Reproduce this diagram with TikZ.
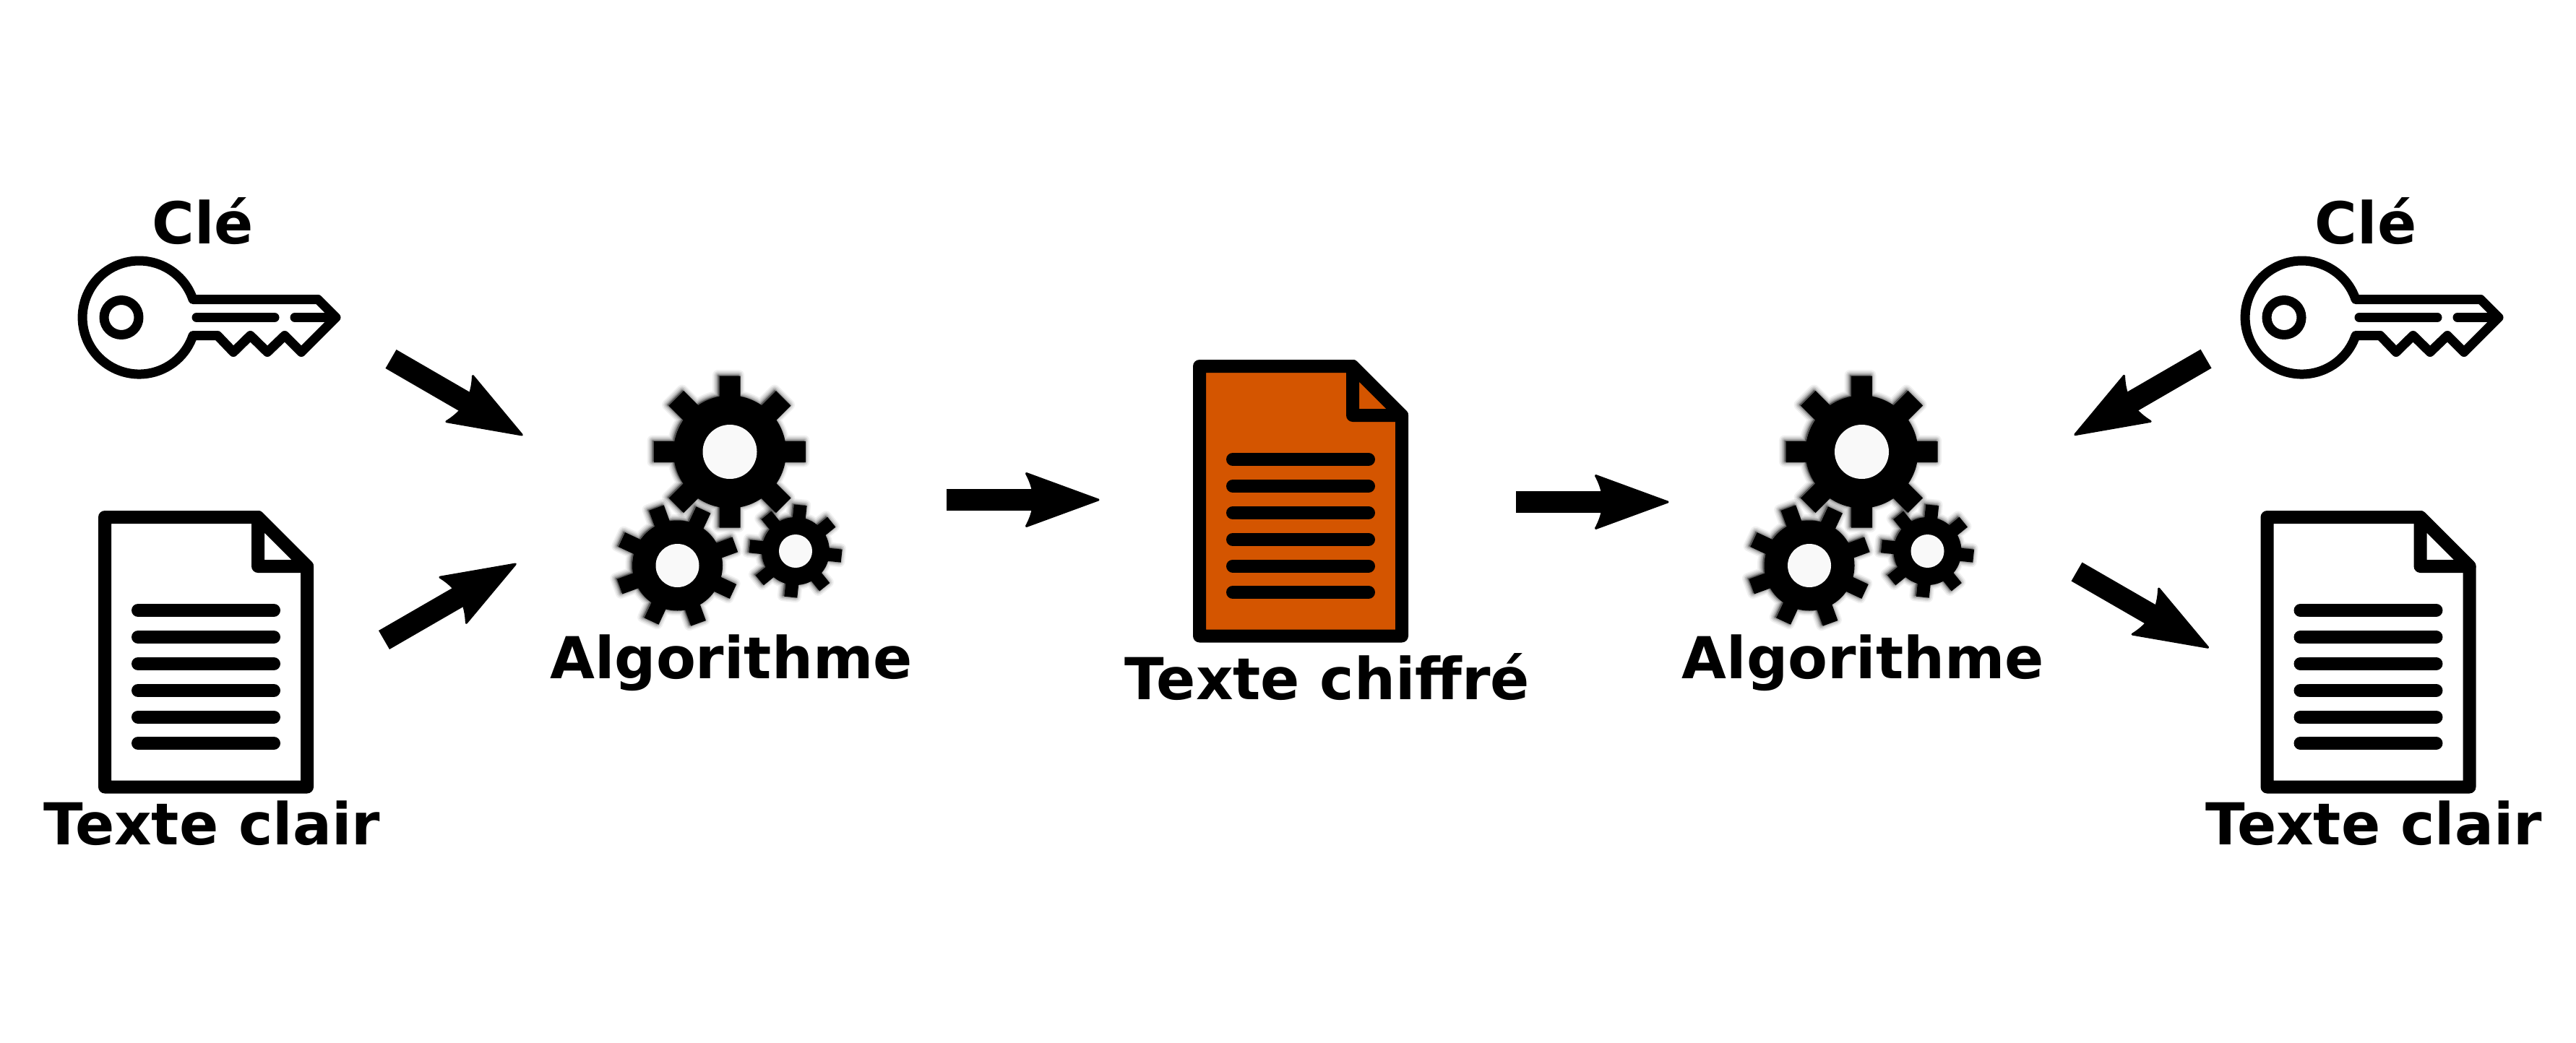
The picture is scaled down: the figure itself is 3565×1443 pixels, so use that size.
\documentclass[tikz,border=0pt]{standalone}
\usepackage{fontspec}
\setmainfont{DejaVu Sans}
\usetikzlibrary{arrows.meta}
\definecolor{cipher}{HTML}{D45500}
\definecolor{gearhole}{HTML}{F9F9F9}
\pgfdeclarearrow{
  name=inkhead,
  setup code={
    \pgfarrowssettipend{0pt}
    \pgfarrowssetlineend{-91pt}
    \pgfarrowssetvisualbackend{-92pt}
    \pgfarrowssetbackend{-104pt}
  },
  drawing code={
    \pgfsetlinewidth{3pt}
    \pgfsetroundjoin
    \pgfpathmoveto{\pgfqpoint{-2pt}{0pt}}
    \pgfpathlineto{\pgfqpoint{-101.5pt}{36.5pt}}
    \pgfpathcurveto{\pgfqpoint{-97pt}{28pt}}{\pgfqpoint{-94pt}{20pt}}{\pgfqpoint{-92.5pt}{12pt}}
    \pgfpathlineto{\pgfqpoint{-92.5pt}{-12pt}}
    \pgfpathcurveto{\pgfqpoint{-94pt}{-20pt}}{\pgfqpoint{-97pt}{-28pt}}{\pgfqpoint{-101.5pt}{-36.5pt}}
    \pgfpathclose
    \pgfusepathqfillstroke
  }
}
\tikzset{
  label text/.style={inner sep=0pt,anchor=base,font=\fontsize{80}{92}\selectfont\bfseries},
  flow arrow/.style={line width=30pt,line cap=butt,-{inkhead}},
  doc stroke/.style={line width=18pt,line join=round,line cap=round},
  key stroke/.style={line width=13pt,line join=round,line cap=round},
}
% body outer halfwidth rotation
\newcommand{\gearoutline}[4]{%
  (0,0) circle[radius=#1pt]
  \foreach \ga in {0,45,...,315}{
    ([rotate=\ga+#4]#1-8,-#3) -- ([rotate=\ga+#4]#2,-#3) -- ([rotate=\ga+#4]#2,#3) -- ([rotate=\ga+#4]#1-8,#3) -- cycle
  }
}
% cx cy body outer halfwidth rotation hole
\newcommand{\mygear}[7]{%
  \begin{scope}[shift={(#1,#2)},x=1pt,y=1pt]
    \foreach \gw/\go in {15/.06,11/.09,7/.13,3.5/.2}{
      \path[fill=black,draw=black,line width=\gw pt,line join=round,opacity=\go,shift={(-2,1)}]
        \gearoutline{#3}{#4}{#5}{#6};
    }
    \path[fill=black] \gearoutline{#3}{#4}{#5}{#6};
    \path[fill=gearhole] (0,0) circle[radius=#7pt];
  \end{scope}%
}
\newcommand{\mydoc}[3]{% dx dy fill
  \begin{scope}[shift={(#1,#2)}]
    \draw[doc stroke,fill=#3] (145,716) -- (357,716) -- (425,784) -- (425,1089.5) -- (145,1089.5) -- cycle;
    \draw[doc stroke,fill=#3] (357,716) -- (357,784) -- (425,784) -- cycle;
    \foreach \ly in {845,882,919,956,992.5,1029}{
      \draw[doc stroke] (191,\ly) -- (379,\ly);
    }
  \end{scope}%
}
\newcommand{\mykey}[1]{%
  \begin{scope}[shift={(#1,0)}]
    \draw[key stroke] (267,414.5) arc[start angle=18.6,end angle=341.4,radius=78.5pt]
      -- (301,464.5) -- (323,487.5) -- (346.5,464.5) -- (370,487.5) -- (394,464.5) -- (417,487.5)
      -- (465,439.5) -- (440,414.5) -- cycle;
    \draw[key stroke] (168,439.5) circle[radius=24pt];
    \draw[key stroke] (272,439.5) -- (380,439.5);
    \draw[key stroke] (408,439.5) -- (462,439.5);
  \end{scope}%
}
\begin{document}
\begin{tikzpicture}[x=1pt,y=-1pt]
  \useasboundingbox[fill=white] (0,0) rectangle (3565,1443);

  % icons
  \mykey{0}
  \mykey{2993}
  \mydoc{0}{0}{white}
  \mydoc{2992.5}{0}{white}
  \mydoc{1515}{-209}{cipher}

  \mygear{1010}{625.5}{78}{105}{14.5}{0}{37.5}
  \mygear{937.5}{783}{62.5}{85}{11}{20}{30}
  \mygear{1101}{763}{47}{64}{9}{-6}{23}
  \mygear{2576.5}{625.5}{78}{105}{14.5}{0}{37.5}
  \mygear{2504}{783}{62.5}{85}{11}{20}{30}
  \mygear{2667.5}{763}{47}{64}{9}{-6}{23}

  % labels
  \node[label text] (cle1) at (281,337) {Clé};
  \node[label text] (cle2) at (3274,337) {Clé};
  \node[label text] (clair1) at (293,1169.5) {Texte clair};
  \node[label text] (clair2) at (3285,1169.5) {Texte clair};
  \node[label text] (algo1) at (1012,939) {Algorithme};
  \node[label text] (algo2) at (2578.5,939) {Algorithme};
  \node[label text] (chiffre) at (1837,968) {Texte chiffré};

  % connector ends
  \coordinate (a1s) at (541,497);    \coordinate (a1e) at (724,603);
  \coordinate (a2s) at (531.5,886);  \coordinate (a2e) at (715,780);
  \coordinate (a3s) at (1310,692);   \coordinate (a3e) at (1522,692);
  \coordinate (a4s) at (2098,695);   \coordinate (a4e) at (2310,695);
  \coordinate (a5s) at (3053,496.7); \coordinate (a5e) at (2870,602.7);
  \coordinate (a6s) at (2874,791.5); \coordinate (a6e) at (3057.3,897.3);

  \draw[flow arrow] (a1s) -- (a1e);
  \draw[flow arrow] (a2s) -- (a2e);
  \draw[flow arrow] (a3s) -- (a3e);
  \draw[flow arrow] (a4s) -- (a4e);
  \draw[flow arrow] (a5s) -- (a5e);
  \draw[flow arrow] (a6s) -- (a6e);
\end{tikzpicture}
\end{document}
